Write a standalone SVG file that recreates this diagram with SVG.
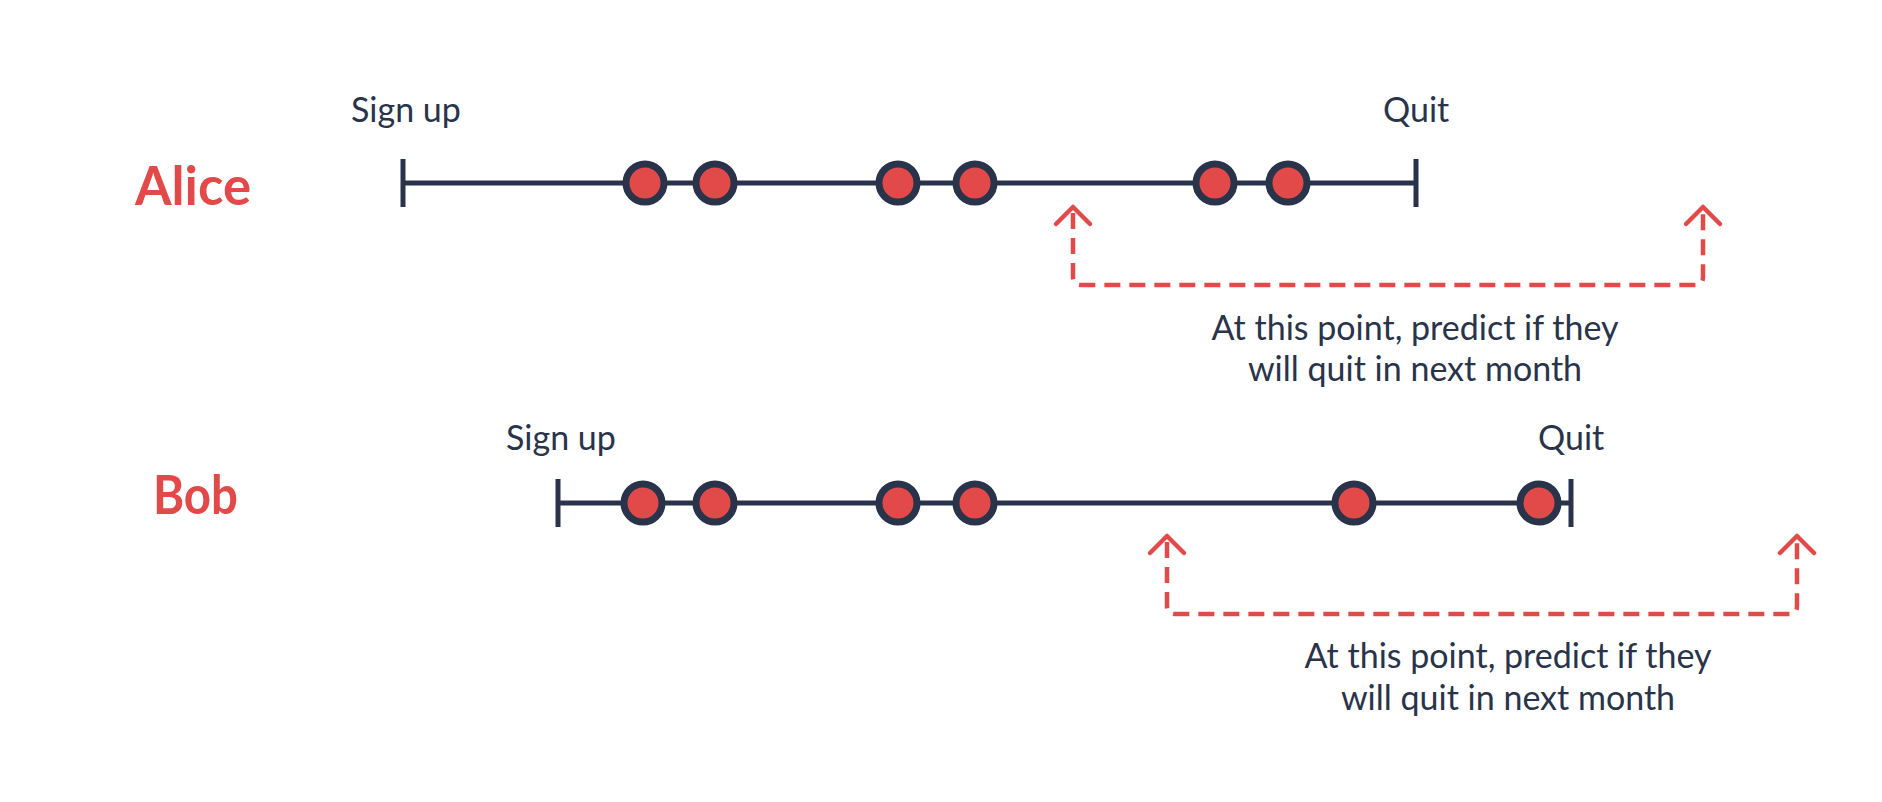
<svg xmlns="http://www.w3.org/2000/svg" width="1882" height="802" viewBox="0 0 1882 802">
  <style>
    .name { font-family: Lato, "Liberation Sans", sans-serif; font-weight: bold; font-size: 54px; fill: #e24a4a; }
    .lbl { font-family: Lato, "Liberation Sans", sans-serif; font-size: 34px; fill: #29344a; }
    .note { font-family: Lato, "Liberation Sans", sans-serif; font-size: 34px; fill: #29344a; text-anchor: middle; }
    .axis { stroke: #29344a; stroke-width: 5; fill: none; }
    .tick { stroke: #29344a; stroke-width: 5; }
    .ev { fill: #e24a4a; stroke: #29344a; stroke-width: 7; }
    .dash { stroke: #e24a4a; stroke-width: 4.5; fill: none; stroke-dasharray: 16 9; }
    .head { stroke: #e24a4a; stroke-width: 4.5; fill: none; stroke-linecap: round; stroke-linejoin: round; }
  </style>
  <rect width="1882" height="802" fill="#ffffff"/>

  <g id="alice">
    <text class="name" x="135" y="205" textLength="116" lengthAdjust="spacingAndGlyphs">Alice</text>
    <text class="lbl" x="351" y="122">Sign up</text>
    <text class="lbl" x="1383" y="122">Quit</text>
    <line class="axis" x1="403" y1="183" x2="1416" y2="183"/>
    <line class="tick" x1="403" y1="159" x2="403" y2="207"/>
    <line class="tick" x1="1416" y1="159" x2="1416" y2="207"/>
    <circle class="ev" cx="645" cy="183" r="19"/>
    <circle class="ev" cx="715" cy="183" r="19"/>
    <circle class="ev" cx="898" cy="183" r="19"/>
    <circle class="ev" cx="975" cy="183" r="19"/>
    <circle class="ev" cx="1215" cy="183" r="19"/>
    <circle class="ev" cx="1288" cy="183" r="19"/>
    <text class="note" x="1415" y="340">At this point, predict if they</text>
    <text class="note" x="1415" y="381">will quit in next month</text>
  </g>

  <g id="bob">
    <text class="name" x="153" y="514" textLength="85" lengthAdjust="spacingAndGlyphs">Bob</text>
    <text class="lbl" x="506" y="450">Sign up</text>
    <text class="lbl" x="1538" y="450">Quit</text>
    <line class="axis" x1="558" y1="503" x2="1571" y2="503"/>
    <line class="tick" x1="558" y1="479" x2="558" y2="527"/>
    <line class="tick" x1="1571" y1="479" x2="1571" y2="527"/>
    <circle class="ev" cx="643" cy="503" r="19"/>
    <circle class="ev" cx="715" cy="503" r="19"/>
    <circle class="ev" cx="898" cy="503" r="19"/>
    <circle class="ev" cx="975" cy="503" r="19"/>
    <circle class="ev" cx="1354" cy="503" r="19"/>
    <circle class="ev" cx="1539" cy="503" r="19"/>
    <text class="note" x="1508" y="668">At this point, predict if they</text>
    <text class="note" x="1508" y="710">will quit in next month</text>
  </g>

  <g id="connectors">
    <path class="dash" d="M1073,213 L1073,277 Q1073,285 1081,285 L1695,285 Q1703,285 1703,277 L1703,213"/>
    <polyline class="head" points="1056,224 1073,207 1090,224"/>
    <polyline class="head" points="1686,224 1703,207 1720,224"/>
    <path class="dash" d="M1167,542 L1167,606 Q1167,614 1175,614 L1789,614 Q1797,614 1797,606 L1797,542"/>
    <polyline class="head" points="1150,553 1167,536 1184,553"/>
    <polyline class="head" points="1780,553 1797,536 1814,553"/>
  </g>
</svg>
